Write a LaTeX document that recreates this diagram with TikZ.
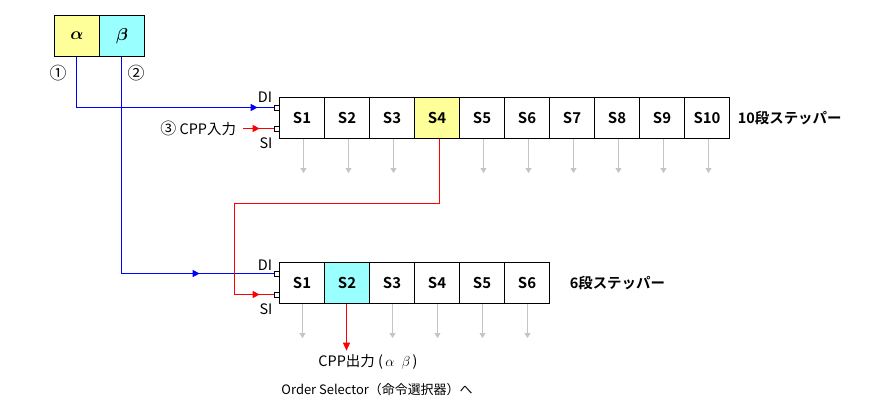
\documentclass[tikz,border=0pt]{standalone}
\usepackage{fontspec}
\setmainfont{Noto Sans CJK JP}[BoldFont={Noto Sans CJK JP Bold}]
\usepackage{bm}
\usetikzlibrary{arrows.meta,decorations.markings}

\definecolor{stepyellow}{HTML}{FFFF99}
\definecolor{stepcyan}{HTML}{99FFFF}
\definecolor{outgray}{HTML}{C4C4C4}
\definecolor{feedblue}{HTML}{0000FF}
\definecolor{feedred}{HTML}{FF0000}

\begin{document}
\begin{tikzpicture}[x=1bp, y=-1bp, font=\fontsize{14.5}{16}\selectfont, line width=1bp,
  stage/.style={draw, minimum width=45bp, minimum height=41bp, inner sep=0pt,
    font=\fontsize{15}{16}\selectfont\bfseries},
  port/.style={draw, fill=white, minimum size=5bp, inner sep=0pt, line width=0.7bp},
  outarrow/.style={draw=outgray, -{Triangle[length=5bp, width=6bp]}},
  feed/.style={postaction=decorate, decoration={markings,
    mark=at position #1 with {\arrow{Triangle[length=7bp, width=7bp]}}}}]

  \newcommand\SW{45}     % stage width
  \newcommand\SX{279.5}  % left edge of both steppers

  \useasboundingbox (0,0) rectangle (895,412);

  %% alpha / beta
  \node[stage, fill=stepyellow, font=\fontsize{16}{16}\selectfont] (alpha) at (77,36) {$\bm{\alpha}$};
  \node[stage, fill=stepcyan, font=\fontsize{16}{16}\selectfont] (beta) at (122,36) {$\bm{\beta}$};
  \node[font=\fontsize{17}{17}\selectfont] (n1) at (58,73) {①};
  \node[font=\fontsize{17}{17}\selectfont] (n2) at (136,73) {②};

  %% 10 stage stepper
  \foreach \i in {1,...,10}{
    \ifnum\i=4 \def\stagefill{stepyellow}\else\def\stagefill{white}\fi
    \node[stage, fill=\stagefill] (t\i) at (\SX+\SW*\i-\SW/2, 118) {S\i};
  }
  \node[port] (tdi) at (276.5,107.5) {};
  \node[port] (tsi) at (276.5,128.5) {};
  \node (tdilab) at (265,97) {DI};
  \node (tsilab) at (266,143) {SI};
  \node[anchor=west] (tname) at (734,118) {\bfseries 10段ステッパー};
  \foreach \i in {1,2,3,5,6,7,8,9,10}
    \draw[outarrow] ([xshift=1.5bp]t\i.south) -- ++(0,34);

  %% 6 stage stepper
  \foreach \i in {1,...,6}{
    \ifnum\i=2 \def\stagefill{stepcyan}\else\def\stagefill{white}\fi
    \node[stage, fill=\stagefill] (b\i) at (\SX+\SW*\i-\SW/2, 283) {S\i};
  }
  \node[port] (bdi) at (276.5,273.5) {};
  \node[port] (bsi) at (276.5,294.5) {};
  \node (bdilab) at (265,265) {DI};
  \node (bsilab) at (266,309) {SI};
  \node[anchor=west] (bname) at (566,283) {\bfseries 6段ステッパー};
  \foreach \i in {1,3,4,5,6}
    \draw[outarrow] ([xshift=0.5bp]b\i.south) -- ++(0,34);

  %% inputs
  \draw[feedblue, feed=-16bp] ([xshift=-0.5bp]alpha.south) |- (tdi.west); % alpha -> DI
  \draw[feedblue, feed=-74bp] ([xshift=-0.5bp]beta.south) |- (bdi.west);  % beta -> DI
  \node[anchor=east, inner sep=0pt, outer xsep=7bp] (cppin) at (243,128.5)
    {{\fontsize{16}{16}\selectfont ③} CPP入力};
  \draw[feedred, feed=-14bp] (cppin.east) -- (tsi.west);

  %% S4 -> SI
  \coordinate (turn) at (234.5,203.5);
  \draw[feedred, feed=-14bp] ([xshift=2.5bp]t4.south) |- (turn) |- (bsi.west);

  %% output
  \node (cppout) at (368,362) {CPP出力 (\,$\alpha$\; $\beta$\,)};
  \node[font=\fontsize{13}{15}\selectfont] (selector) at (377,390) {Order Selector（命令選択器）へ};
  \draw[feedred, -{Triangle[length=8bp, width=7bp]}] ([xshift=-0.5bp]b2.south) -- ([xshift=-0.5bp]b2.south |- cppout.north);
\end{tikzpicture}
\end{document}
